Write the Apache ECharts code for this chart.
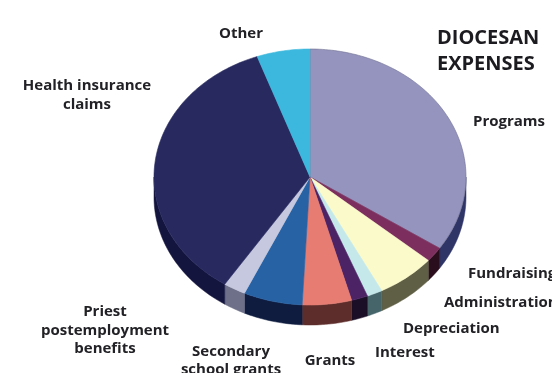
<!DOCTYPE html>
<html>
<head>
<meta charset="utf-8">
<style>html,body{margin:0;padding:0;background:#fff}#chart{width:552px;height:373px}</style>
<script src="https://cdn.jsdelivr.net/npm/echarts@6/dist/echarts.min.js"></script>
</head>
<body>
<div id="chart"></div>
<script>
// Diocesan expenses, share of the total by category (percent), clockwise from 12 o'clock
var categories = ['Programs','Fundraising','Administration','Depreciation','Interest','Grants','Secondary school grants','Priest postemployment benefits','Health insurance claims','Other'];
var shares = [34.4,1.9,6.1,1.6,1.7,5.1,6.1,2.3,35.3,5.5];
var topColors = ['#9494bf','#7c2f5e','#fbfacb','#c5e8ea','#4c2364','#e67c72','#2762a5','#c5c8de','#27295f','#3cb8de'];
var wallColors = ['#2f3566','#2b0e1d','#5f5f45','#46656a','#1a0f26','#5c2d2a','#0f1c40','#6d7088','#14153f','#14153f'];

// Tilted disc geometry
var CX = 310, CY = 177, RX = 156, RY = 128, DEPTH = 20;

var total = shares.reduce(function (a, b) { return a + b; }, 0);
function angleRange(index) {
  var before = 0;
  for (var i = 0; i < index; i++) before += shares[i];
  return [before / total * Math.PI * 2, (before + shares[index]) / total * Math.PI * 2];
}
function rim(t, drop) {
  return [CX + RX * Math.sin(t), CY - RY * Math.cos(t) + (drop || 0)];
}
function arc(a, b) {
  var pts = [], n = Math.max(2, Math.ceil((b - a) / 0.02));
  for (var i = 0; i <= n; i++) pts.push(rim(a + (b - a) * i / n));
  return pts;
}

function renderWall(params, api) {
  var r = angleRange(params.dataIndex);
  // Only the front half of the disc shows its side
  var a = Math.max(r[0], Math.PI / 2), b = Math.min(r[1], Math.PI * 1.5);
  if (b <= a) return null;
  var upper = arc(a, b);
  var lower = upper.slice().reverse().map(function (p) { return [p[0], p[1] + DEPTH]; });
  var color = wallColors[params.dataIndex];
  return {
    type: 'polygon',
    shape: { points: upper.concat(lower) },
    style: { fill: color, stroke: color, lineWidth: 0.5 }
  };
}

function renderTop(params, api) {
  var r = angleRange(params.dataIndex);
  var color = topColors[params.dataIndex];
  return {
    type: 'polygon',
    shape: { points: [[CX, CY]].concat(arc(r[0], r[1])) },
    style: { fill: color, stroke: params.dataIndex === 0 ? '#6f6f8e' : color, lineWidth: 0.6 }
  };
}

// Text lines around the disc: [text, x, y, align]
var labelLines = [
  ['Other', 241, 34, 'center'],
  ['Programs', 473, 122, 'left'],
  ['Health insurance', 87, 86, 'center'],
  ['claims', 87, 105, 'center'],
  ['Fundraising', 468, 274, 'left'],
  ['Administration', 444, 303, 'left'],
  ['Depreciation', 403, 329, 'left'],
  ['Interest', 375, 353, 'left'],
  ['Grants', 330, 361, 'center'],
  ['Secondary', 231, 352, 'center'],
  ['school grants', 231, 370, 'center'],
  ['Priest', 105, 312, 'center'],
  ['postemployment', 105, 331, 'center'],
  ['benefits', 105, 349, 'center']
];
var titleLines = [['DIOCESAN', 437, 38], ['EXPENSES', 437, 64]];

var FONT = '"Open Sans", "Noto Sans", sans-serif';
var textItems = labelLines.map(function (l) {
  return { type: 'text', x: l[1], y: l[2], z: 10,
    style: { text: l[0], fill: '#222226', font: 'bold 15px ' + FONT, textAlign: l[3], textVerticalAlign: 'middle' } };
}).concat(titleLines.map(function (l) {
  return { type: 'text', x: l[1], y: l[2], z: 10,
    style: { text: l[0], fill: '#1c1c20', font: 'bold 20px ' + FONT, textAlign: 'left', textVerticalAlign: 'middle' } };
}));

var seriesData = categories.map(function (name, i) { return { name: name, value: shares[i] }; });

var chart = echarts.init(document.getElementById('chart'), null, { renderer: 'canvas' });
chart.setOption({
  backgroundColor: '#ffffff',
  animation: false,
  series: [
    { type: 'custom', coordinateSystem: 'none', renderItem: renderWall, data: seriesData, z: 1, silent: true },
    { type: 'custom', coordinateSystem: 'none', renderItem: renderTop, data: seriesData, z: 2, silent: true }
  ],
  graphic: textItems
});
</script>
</body>
</html>
